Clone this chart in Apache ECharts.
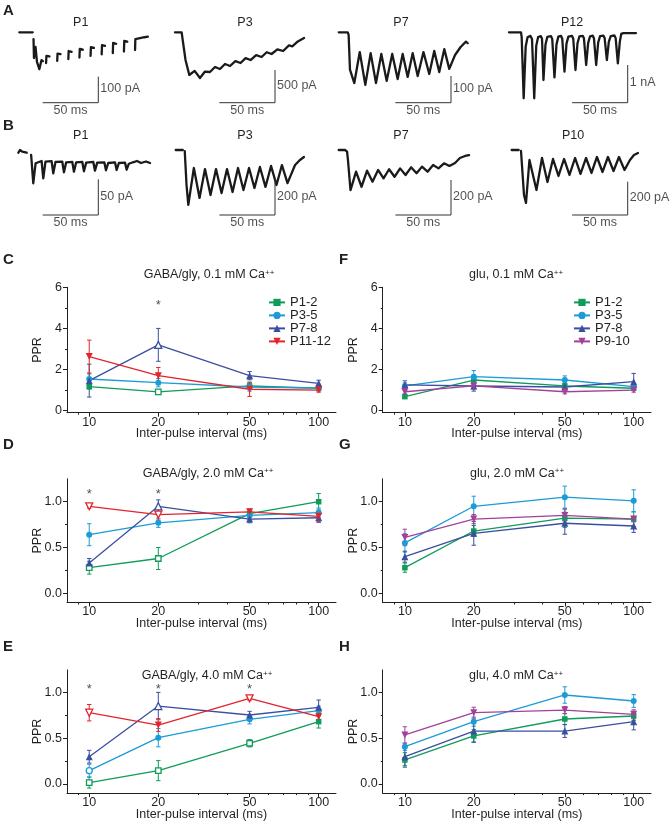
<!DOCTYPE html>
<html><head><meta charset="utf-8">
<script src="https://cdn.jsdelivr.net/npm/echarts@6/dist/echarts.min.js"></script>
<style>html,body{margin:0;padding:0;background:#fff}#c{width:672px;height:827px}</style>
</head><body><div id="c"></div>
<script>
// ================= DATA =================
const intervals = [10, 20, 50, 100];          // inter-pulse interval (ms)
const xTickLabels = [10, 20, 50, 100];
const xMinorTicks = [9, 30, 40, 60, 70, 80, 90];
const gabaGroups = ['P1-2', 'P3-5', 'P7-8', 'P11-12'];
const gluGroups = ['P1-2', 'P3-5', 'P7-8', 'P9-10'];

// C: GABA/gly 0.1 mM Ca
const c_P1_2 = [1.17, 0.91, 1.20, 1.09],  c_P1_2_err = [0.12, 0.08, 0.15, 0.10];
const c_P3_5 = [1.54, 1.36, 1.15, 1.10],  c_P3_5_err = [0.25, 0.20, 0.20, 0.15];
const c_P7_8 = [1.46, 3.20, 1.70, 1.33],  c_P7_8_err = [0.80, 0.80, 0.20, 0.15];
const c_P11_12 = [2.63, 1.70, 1.04, 1.00], c_P11_12_err = [0.80, 0.40, 0.35, 0.10];
const c_stars = [[20, 5.25]];
// D: GABA/gly 2.0 mM Ca
const d_P1_2 = [0.28, 0.38, 0.87, 1.00],  d_P1_2_err = [0.07, 0.12, 0.04, 0.09];
const d_P3_5 = [0.64, 0.77, 0.85, 0.88],  d_P3_5_err = [0.12, 0.05, 0.04, 0.05];
const d_P7_8 = [0.33, 0.95, 0.81, 0.825], d_P7_8_err = [0.05, 0.07, 0.04, 0.05];
const d_P11_12 = [0.95, 0.86, 0.89, 0.84], d_P11_12_err = [0.02, 0.06, 0.03, 0.06];
const d_stars = [[10, 1.117], [20, 1.117]];
// E: GABA/gly 4.0 mM Ca
const e_P1_2 = [0.015, 0.146, 0.446, 0.683], e_P1_2_err = [0.06, 0.11, 0.04, 0.07];
const e_P3_5 = [0.146, 0.507, 0.708, 0.803], e_P3_5_err = [0.07, 0.10, 0.05, 0.05];
const e_P7_8 = [0.299, 0.854, 0.756, 0.84],  e_P7_8_err = [0.07, 0.15, 0.04, 0.08];
const e_P11_12 = [0.781, 0.646, 0.938, 0.737], e_P11_12_err = [0.09, 0.07, 0.02, 0.03];
const e_stars = [[10, 1.073], [20, 1.073], [50, 1.073]];
// F: glu 0.1 mM Ca
const f_P1_2 = [0.68, 1.49, 1.20, 1.09],  f_P1_2_err = [0.08, 0.20, 0.15, 0.10];
const f_P3_5 = [1.20, 1.65, 1.49, 1.17],  f_P3_5_err = [0.15, 0.30, 0.20, 0.10];
const f_P7_8 = [1.25, 1.20, 1.15, 1.41],  f_P7_8_err = [0.20, 0.25, 0.15, 0.40];
const f_P9_10 = [0.92, 1.20, 0.92, 1.00], f_P9_10_err = [0.10, 0.15, 0.10, 0.10];
// G: glu 2.0 mM Ca
const g_P1_2 = [0.28, 0.68, 0.82, 0.81],  g_P1_2_err = [0.05, 0.06, 0.10, 0.08];
const g_P3_5 = [0.55, 0.95, 1.05, 1.01],  g_P3_5_err = [0.10, 0.11, 0.12, 0.12];
const g_P7_8 = [0.40, 0.655, 0.765, 0.735], g_P7_8_err = [0.06, 0.13, 0.12, 0.07];
const g_P9_10 = [0.61, 0.81, 0.85, 0.81], g_P9_10_err = [0.09, 0.05, 0.07, 0.03];
// H: glu 4.0 mM Ca
const h_P1_2 = [0.263, 0.526, 0.712, 0.745], h_P1_2_err = [0.08, 0.07, 0.06, 0.05];
const h_P3_5 = [0.409, 0.683, 0.975, 0.909], h_P3_5_err = [0.04, 0.05, 0.09, 0.07];
const h_P7_8 = [0.299, 0.58, 0.58, 0.683],   h_P7_8_err = [0.10, 0.12, 0.07, 0.09];
const h_P9_10 = [0.537, 0.781, 0.81, 0.763], h_P9_10_err = [0.09, 0.06, 0.04, 0.05];

// Example traces: [time (ms), current (pA)], null = break in trace
const traceA_P1 = [[-12.6,0],[-0.5,0],null,
 [0.2,-26],[0.6,-99],[2.0,-56],[3.3,-114],[5.4,-142],[7.4,-107],[8.7,-111],null,
 [11.5,-118],[11.8,-91],[13.5,-88],[14.5,-93],null,
 [21.5,-110],[21.8,-82],[23.5,-79],[24.5,-84],null,
 [31.5,-103],[31.8,-72],[33.5,-70],[34.5,-75],null,
 [41.5,-97],[41.8,-64],[43.5,-62],[44.5,-67],null,
 [51.5,-91],[51.8,-57],[53.5,-55],[54.5,-60],null,
 [61.5,-85],[61.8,-49],[63.5,-47],[64.5,-52],null,
 [71.5,-80],[71.8,-41],[73.5,-39],[74.5,-44],null,
 [81.5,-74],[81.8,-33],[83.5,-31],[84.5,-36],null,
 [91.5,-68],[91.8,-26],[93.5,-22],[100,-19],[103,-17]];
const traceA_P3 = [[-7.5,0],[-1.5,0],[0,-11],[2,-424],[5.4,-653],[10.2,-590],[15,-699],[19.5,-600],[24,-607],[28.5,-530],
 [33,-561],[37.5,-485],[42,-515],[46.8,-440],[51.5,-469],[56,-395],[60.5,-424],[65.5,-350],[70.4,-378],[75,-305],
 [79.4,-332],[84.6,-260],[89.8,-286],[95,-200],[98,-215],[103,-140],[108.6,-87]];
const traceA_P7 = [[-8.6,0],[-0.5,0],[0.3,-10],[1.5,-140],[5.4,-190],[10.3,-74],[15.3,-197],[20.1,-78],[24.9,-190],
 [29.7,-81],[34.5,-182],[39.5,-81],[44.4,-175],[48.9,-81],[53.4,-167],[57.9,-78],[62.4,-164],[67.6,-74],[72.8,-156],
 [77.3,-70],[81.8,-149],[86.3,-63],[90.8,-137],[96,-85],[101,-55],[105.8,-35],[107.4,-41]];
const traceA_P12 = [[-10.8,0],[0,0],[0.6,-120],
 [2.4,-1750],[4.2,-380],[5.9,-130],[8.5,-95],[9.9,-180],
 [11.9,-1750],[13.7,-360],[15.4,-125],[17.8,-100],[18.9,-170],
 [20.2,-1265],[22,-330],[23.7,-120],[27,-100],[28.1,-180],
 [30.1,-1194],[31.9,-320],[33.6,-115],[36,-95],[37.1,-170],
 [39.1,-1045],[40.9,-300],[42.6,-115],[45.9,-95],[47,-170],
 [49,-1000],[50.8,-290],[52.5,-110],[55.5,-95],[56.6,-160],
 [58.6,-867],[60.4,-280],[62.1,-105],[64.5,-90],[65.6,-160],
 [67.6,-867],[69.4,-270],[71.1,-100],[74.1,-90],[75.2,-150],
 [77.2,-735],[79,-250],[80.7,-100],[84,-85],[85.1,-150],
 [87.1,-822],[88.9,-240],[90.2,-40],[92,-20],[103.4,-20]];
const traceB_P1 = [[-12,0.4],[-10.5,4.2],[-8.5,2],[-4.5,0.4],null,
 [-0.5,-2.8],[1.4,-42.4],[3.5,-14.4],[8.9,-11.2],[10.4,-35.4],[12.4,-12],[17.9,-11.5],[19.4,-28.4],[21.4,-12.5],
 [27.5,-12],[29,-27],[31,-13],[36.5,-12.5],[38,-26.2],[40,-13],[45.5,-12.5],[47,-25.6],[49,-13.5],
 [55.4,-12.5],[56.9,-24.8],[58.9,-13.5],[65.3,-13],[66.8,-24.2],[68.8,-14],[74.9,-13],[76.4,-23.8],[78.4,-14],
 [83.9,-13.5],[85.4,-23.4],[87.4,-15],[91,-13],[94.7,-11.2],[98.3,-14],[102.8,-11.9],[106.4,-14]];
const traceB_P3 = [[-7.7,0],[-1.4,0],null,
 [0.4,-6],[2,-200],[3.6,-314],[8.6,-103],[13.7,-274],[18.6,-109],[23.6,-257],[28.5,-109],[33.5,-246],[38.4,-109],
 [43.4,-240],[48.3,-103],[53.2,-229],[58.2,-103],[63.1,-217],[68,-97],[73,-211],[78,-91],[82.9,-200],[87.8,-86],
 [92.8,-189],[99.6,-86],[104,-57],[107.6,-40]];
const traceB_P7 = [[-7.9,0],[-2.2,0],[-0.4,-9],[0.4,-57],[2.7,-229],[7.7,-124],[12.6,-210],[17.6,-118],[22.5,-181],
 [27.5,-114],[32.4,-162],[37.4,-110],[42.3,-153],[47.3,-105],[52.2,-143],[57.2,-99],[62.1,-133],[67,-95],[72,-124],
 [77,-86],[81.8,-105],[86.8,-76],[91.7,-91],[96.7,-74],[101.1,-46],[105.7,-34],[109.3,-29]];
const traceB_P10 = [[-8.4,0],[-2.1,0],null,
 [0,-6],[2.7,-270],[4.5,-318],[7.6,-60],[13.9,-240],[18.9,-48],[23.8,-192],[28.8,-54],[33.7,-156],[38.7,-54],
 [43.6,-150],[48.6,-48],[53.5,-144],[58.5,-48],[63.4,-138],[68.3,-42],[73.3,-132],[78.2,-42],[83.2,-126],
 [88.1,-42],[93.1,-120],[98,-60],[101.6,-30],[105.2,-18]];

const traceTitles = ['P1', 'P3', 'P7', 'P12', 'P1', 'P3', 'P7', 'P10'];
const scaleBarMs = [50, 50, 50, 50, 50, 50, 50, 50];
const scaleBarPA = [100, 500, 100, 1000, 50, 200, 200, 200];
const scaleBarLabels = ['100 pA', '500 pA', '100 pA', '1 nA', '50 pA', '200 pA', '200 pA', '200 pA'];

// ================= LAYOUT / STYLE =================
const FONT = '"Liberation Sans", Arial, Helvetica, sans-serif';
const TXT = '#231f20';
const COLORS = {'P1-2':'#0f9b5a','P3-5':'#1c9bd6','P7-8':'#3b4fa0','P11-12':'#e3242b','P9-10':'#a3409a'};
const SYMBOLS = {'P1-2':['rect',0,5.5],'P3-5':['circle',0,6],'P7-8':['triangle',0,7],'P11-12':['triangle',180,7],'P9-10':['triangle',180,7]};
const PX_PER_MS = 1.112, T_MIN = -15, T_MAX = 115;
const traceLayout = [
  {x0:33.3, y0:32.3, top:16, bottom:107, barPx:26,   corner:[98.3,102.7], tx:80.7, ty:23},
  {x0:183.3,y0:32.3, top:16, bottom:107, barPx:32.7, corner:[275,102.7],  tx:245,  ty:23},
  {x0:348.3,y0:32.3, top:16, bottom:107, barPx:26.7, corner:[451,102.7],  tx:401,  ty:23},
  {x0:521,  y0:32.3, top:16, bottom:107, barPx:37.7, corner:[627.7,102.7],tx:572,  ty:23},
  {x0:31.7, y0:153,  top:138,bottom:222, barPx:35.7, corner:[98.3,215],   tx:80.7, ty:136},
  {x0:184.3,y0:150,  top:138,bottom:222, barPx:35,   corner:[275,215],    tx:245,  ty:136},
  {x0:347.5,y0:150,  top:138,bottom:222, barPx:35,   corner:[451,215],    tx:401,  ty:136},
  {x0:521,  y0:150,  top:138,bottom:222, barPx:33.3, corner:[627.7,215],  tx:573,  ty:136}
];
const traces = [traceA_P1, traceA_P3, traceA_P7, traceA_P12, traceB_P1, traceB_P3, traceB_P7, traceB_P10];

const LEFT = {left:67, width:269}, RIGHT = {left:382.7, width:268.3};
const panels = [
  {letter:'C', lx:3, ly:260, title:'GABA/gly, 0.1 mM Ca', tx:209, ty:275, rect:Object.assign({top:287.3, height:125.4}, LEFT),
   yMin:-0.1, yMax:6, yTicks:[0,2,4,6], yMinor:[1,3,5], dec:0, groups:gabaGroups,
   means:[c_P1_2,c_P3_5,c_P7_8,c_P11_12], errs:[c_P1_2_err,c_P3_5_err,c_P7_8_err,c_P11_12_err],
   hollow:[[1],[],[1],[]], stars:c_stars, legend:{left:268, top:295.9}},
  {letter:'D', lx:3, ly:445, title:'GABA/gly, 2.0 mM Ca', tx:208, ty:473.3, rect:Object.assign({top:478.8, height:123.7}, LEFT),
   yMin:-0.1, yMax:1.25, yTicks:[0,0.5,1], yMinor:[0.25,0.75], dec:1, groups:gabaGroups,
   means:[d_P1_2,d_P3_5,d_P7_8,d_P11_12], errs:[d_P1_2_err,d_P3_5_err,d_P7_8_err,d_P11_12_err],
   hollow:[[0,1],[],[1],[0,1]], stars:d_stars},
  {letter:'E', lx:3, ly:647, title:'GABA/gly, 4.0 mM Ca', tx:207, ty:676, rect:Object.assign({top:669.9, height:123.2}, LEFT),
   yMin:-0.1, yMax:1.25, yTicks:[0,0.5,1], yMinor:[0.25,0.75], dec:1, groups:gabaGroups,
   means:[e_P1_2,e_P3_5,e_P7_8,e_P11_12], errs:[e_P1_2_err,e_P3_5_err,e_P7_8_err,e_P11_12_err],
   hollow:[[0,1,2],[0],[1],[0,2]], stars:e_stars},
  {letter:'F', lx:339, ly:260, title:'glu, 0.1 mM Ca', tx:516, ty:275, rect:Object.assign({top:287.3, height:125.4}, RIGHT),
   yMin:-0.1, yMax:6, yTicks:[0,2,4,6], yMinor:[1,3,5], dec:0, groups:gluGroups,
   means:[f_P1_2,f_P3_5,f_P7_8,f_P9_10], errs:[f_P1_2_err,f_P3_5_err,f_P7_8_err,f_P9_10_err],
   hollow:[[],[],[],[]], legend:{left:573, top:295.9}},
  {letter:'G', lx:339, ly:445, title:'glu, 2.0 mM Ca', tx:517, ty:473.3, rect:Object.assign({top:478.8, height:123.7}, RIGHT),
   yMin:-0.1, yMax:1.25, yTicks:[0,0.5,1], yMinor:[0.25,0.75], dec:1, groups:gluGroups,
   means:[g_P1_2,g_P3_5,g_P7_8,g_P9_10], errs:[g_P1_2_err,g_P3_5_err,g_P7_8_err,g_P9_10_err],
   hollow:[[],[],[],[]]},
  {letter:'H', lx:339, ly:647, title:'glu, 4.0 mM Ca', tx:516, ty:676, rect:Object.assign({top:669.9, height:123.2}, RIGHT),
   yMin:-0.1, yMax:1.25, yTicks:[0,0.5,1], yMinor:[0.25,0.75], dec:1, groups:gluGroups,
   means:[h_P1_2,h_P3_5,h_P7_8,h_P9_10], errs:[h_P1_2_err,h_P3_5_err,h_P7_8_err,h_P9_10_err],
   hollow:[[],[],[],[]]}
];

// ================= BUILD =================
const grids = [], xAxes = [], yAxes = [], series = [], legends = [], graphics = [];
function addGrid(rect) { grids.push(Object.assign({outerBoundsMode:'none', containLabel:false, show:false}, rect)); return grids.length - 1; }
function gtext(text, x, y, size, weight, align, rich) {
  const st = {text, fill:TXT, fontSize:size, fontWeight:weight||'normal', fontFamily:FONT,
    textAlign:align||'center', align:align||'center', textVerticalAlign:'middle', verticalAlign:'middle'};
  if (rich) st.rich = rich;
  return {type:'text', x, y, silent:true, z:10, style:st};
}
const txtStyle = {color:TXT, fontSize:12.5, fontFamily:FONT};

traces.forEach((tr, i) => {
  const L = traceLayout[i];
  const s = L.barPx / scaleBarPA[i];
  const g = addGrid({left: L.x0 + T_MIN * PX_PER_MS, top: L.top, width: (T_MAX - T_MIN) * PX_PER_MS, height: L.bottom - L.top});
  xAxes.push({gridIndex:g, type:'value', min:T_MIN, max:T_MAX, show:false});
  yAxes.push({gridIndex:g, type:'value', min:-(L.bottom - L.y0) / s, max:(L.y0 - L.top) / s, show:false});
  const ai = xAxes.length - 1;
  series.push({type:'line', xAxisIndex:ai, yAxisIndex:ai, data: tr.map(p => p ? p : ['-', '-']),
    symbol:'none', connectNulls:false, clip:false, silent:true, z:3,
    lineStyle:{color:'#1a1a1a', width:2.3, join:'round', cap:'round'}});
  const cMs = (L.corner[0] - L.x0) / PX_PER_MS, cPA = -(L.corner[1] - L.y0) / s;
  series.push({type:'line', xAxisIndex:ai, yAxisIndex:ai, symbol:'none', clip:false, silent:true, z:3,
    data:[[cMs - scaleBarMs[i], cPA], [cMs, cPA], [cMs, cPA + scaleBarPA[i]]],
    lineStyle:{color:'#333', width:1}});
  series.push({type:'scatter', xAxisIndex:ai, yAxisIndex:ai, symbolSize:0.1, silent:true, clip:false, z:4,
    itemStyle:{color:'rgba(0,0,0,0)'}, label:Object.assign({show:true}, txtStyle),
    data:[
      {value:[cMs - scaleBarMs[i] / 2, cPA], label:{position:'bottom', distance:1, formatter: scaleBarMs[i] + ' ms'}},
      {value:[cMs, cPA + scaleBarPA[i] / 2], label:{position:'right', distance:2, offset:[0,-1], formatter: scaleBarLabels[i]}}
    ]});
  graphics.push(gtext(traceTitles[i], L.tx, L.ty, 12.5));
});
graphics.push(gtext('A', 3, 10.7, 15, 'bold', 'left'));
graphics.push(gtext('B', 3, 126, 15, 'bold', 'left'));

const errRender = (col) => (params, api) => {
  const x = api.value(0);
  const a = api.coord([x, api.value(1)]), b = api.coord([x, api.value(2)]);
  const w = 2.2, st = {stroke:col, lineWidth:1};
  return {type:'group', children:[
    {type:'line', shape:{x1:a[0], y1:a[1], x2:b[0], y2:b[1]}, style:st},
    {type:'line', shape:{x1:a[0]-w, y1:a[1], x2:a[0]+w, y2:a[1]}, style:st},
    {type:'line', shape:{x1:b[0]-w, y1:b[1], x2:b[0]+w, y2:b[1]}, style:st}]};
};

panels.forEach(p => {
  const gMain = addGrid(p.rect), gMinor = addGrid(p.rect);
  const xi = xAxes.length;
  const lineCol = {color:'#231f20', width:1};
  xAxes.push({gridIndex:gMain, type:'log', logBase:10, min:8, max:119,
    axisLine:{show:true, onZero:false, lineStyle:lineCol},
    axisTick:{show:true, inside:false, length:4, customValues:xTickLabels, lineStyle:lineCol},
    axisLabel:Object.assign({show:true, customValues:xTickLabels, margin:3, formatter:v => String(Math.round(v))}, txtStyle),
    splitLine:{show:false}, minorTick:{show:false},
    name:'Inter-pulse interval (ms)', nameLocation:'middle', nameGap:14.5, nameMoveOverlap:false, nameTextStyle:txtStyle});
  xAxes.push({gridIndex:gMinor, type:'log', logBase:10, min:8, max:119,
    axisLine:{show:false, onZero:false}, axisTick:{show:true, inside:false, length:2, customValues:xMinorTicks, lineStyle:lineCol},
    axisLabel:{show:false}, splitLine:{show:false}});
  yAxes.push({gridIndex:gMain, type:'value', min:p.yMin, max:p.yMax,
    axisLine:{show:true, onZero:false, lineStyle:lineCol},
    axisTick:{show:true, inside:false, length:4, customValues:p.yTicks, lineStyle:lineCol},
    axisLabel:Object.assign({show:true, customValues:p.yTicks, margin:5, formatter:v => Number(v).toFixed(p.dec)}, txtStyle),
    splitLine:{show:false},
    name:'PPR', nameLocation:'middle', nameGap:23, nameMoveOverlap:false, nameTextStyle:txtStyle});
  yAxes.push({gridIndex:gMinor, type:'value', min:p.yMin, max:p.yMax,
    axisLine:{show:false, onZero:false}, axisTick:{show:true, inside:false, length:2, customValues:p.yMinor, lineStyle:lineCol},
    axisLabel:{show:false}, splitLine:{show:false}});

  p.groups.forEach((name, k) => {
    const col = COLORS[name], sym = SYMBOLS[name];
    const means = p.means[k], errs = p.errs[k], hollow = p.hollow[k];
    series.push({type:'custom', name:name + ' sem', xAxisIndex:xi, yAxisIndex:xi, silent:true, z:2,
      renderItem: errRender(col), encode:{x:0, y:[1,2]},
      data: intervals.map((x, j) => [x, means[j] - errs[j], means[j] + errs[j]])});
    series.push({type:'line', name, xAxisIndex:xi, yAxisIndex:xi, z:3, silent:true, clip:false,
      symbol:sym[0], symbolRotate:sym[1], symbolSize:sym[2], showSymbol:true,
      itemStyle:{color:col}, lineStyle:{color:col, width:1.3},
      data: intervals.map((x, j) => hollow.indexOf(j) >= 0
        ? {value:[x, means[j]], itemStyle:{color:'#fff', borderColor:col, borderWidth:1.3}}
        : [x, means[j]])});
  });
  if (p.stars) {
    series.push({type:'scatter', xAxisIndex:xi, yAxisIndex:xi, symbolSize:0.1, silent:true, z:4,
      itemStyle:{color:'rgba(0,0,0,0)'}, data:p.stars,
      label:{show:true, position:'inside', formatter:'*', offset:[0,3], color:TXT, fontSize:13, fontFamily:FONT}});
  }
  if (p.legend) {
    legends.push({data:p.groups, orient:'vertical', left:p.legend.left, top:p.legend.top, padding:0,
      itemWidth:16, itemHeight:9, itemGap:0, selectedMode:false, lineStyle:{width:2},
      textStyle:{color:TXT, fontSize:13, fontFamily:FONT, lineHeight:11.7}});
  }
  graphics.push(gtext(p.letter, p.lx, p.ly, 15, 'bold', 'left'));
  graphics.push(gtext(p.title + '{s|++}', p.tx, p.ty, 12.5, 'normal', 'center',
    {s:{fontSize:8, fontFamily:FONT, fill:TXT, verticalAlign:'top', padding:[0,0,4,0]}}));
});

const chart = echarts.init(document.getElementById('c'), null, {renderer:'canvas'});
chart.setOption({
  animation:false, backgroundColor:'#fff',
  textStyle:{fontFamily:FONT},
  grid:grids, xAxis:xAxes, yAxis:yAxes, series, legend:legends, graphic:graphics
});
</script></body></html>
